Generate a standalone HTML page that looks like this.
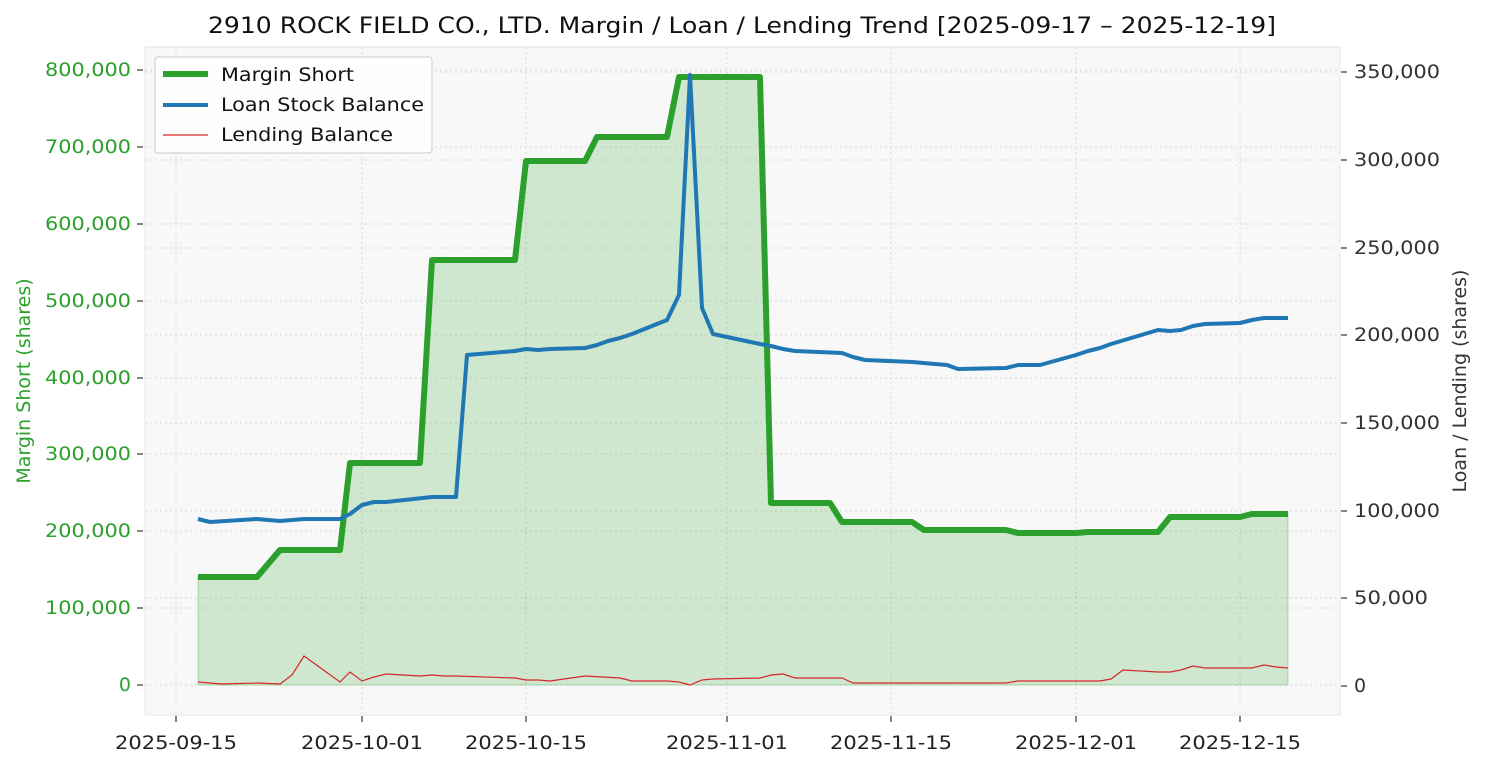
<!DOCTYPE html>
<html><head><meta charset="utf-8"><style>body{margin:0;background:#fff}text{font-family:"DejaVu Sans","Liberation Sans",sans-serif}</style></head>
<body>
<svg width="1485" height="765" xmlns="http://www.w3.org/2000/svg">
<rect x="0" y="0" width="1485" height="765" fill="#fff"/>
<rect x="145" y="47" width="1195" height="668" fill="#f8f8f8" stroke="#e6e6e6"/>
<text x="742" y="33" font-size="22" text-anchor="middle" fill="#111" textLength="1068" lengthAdjust="spacingAndGlyphs">2910 ROCK FIELD CO., LTD. Margin / Loan / Lending Trend [2025-09-17 – 2025-12-19]</text>
<g stroke="#d8d8d8" stroke-dasharray="2,3" stroke-width="1">
<line x1="176" y1="47" x2="176" y2="715"/><line x1="362" y1="47" x2="362" y2="715"/><line x1="526" y1="47" x2="526" y2="715"/><line x1="727" y1="47" x2="727" y2="715"/><line x1="891" y1="47" x2="891" y2="715"/><line x1="1076" y1="47" x2="1076" y2="715"/><line x1="1240" y1="47" x2="1240" y2="715"/>
<line x1="145" y1="70" x2="1340" y2="70"/><line x1="145" y1="147" x2="1340" y2="147"/><line x1="145" y1="224" x2="1340" y2="224"/><line x1="145" y1="301" x2="1340" y2="301"/><line x1="145" y1="378" x2="1340" y2="378"/><line x1="145" y1="454" x2="1340" y2="454"/><line x1="145" y1="531" x2="1340" y2="531"/><line x1="145" y1="608" x2="1340" y2="608"/><line x1="145" y1="685" x2="1340" y2="685"/>
<line x1="145" y1="72" x2="1340" y2="72"/><line x1="145" y1="160" x2="1340" y2="160"/><line x1="145" y1="248" x2="1340" y2="248"/><line x1="145" y1="335" x2="1340" y2="335"/><line x1="145" y1="423" x2="1340" y2="423"/><line x1="145" y1="511" x2="1340" y2="511"/><line x1="145" y1="598" x2="1340" y2="598"/>
</g>
<g stroke="#333" stroke-width="1.2">
<line x1="137" y1="70" x2="143" y2="70"/><line x1="137" y1="147" x2="143" y2="147"/><line x1="137" y1="224" x2="143" y2="224"/><line x1="137" y1="301" x2="143" y2="301"/><line x1="137" y1="378" x2="143" y2="378"/><line x1="137" y1="454" x2="143" y2="454"/><line x1="137" y1="531" x2="143" y2="531"/><line x1="137" y1="608" x2="143" y2="608"/><line x1="137" y1="685" x2="143" y2="685"/>
<line x1="1341" y1="72" x2="1347" y2="72"/><line x1="1341" y1="160" x2="1347" y2="160"/><line x1="1341" y1="248" x2="1347" y2="248"/><line x1="1341" y1="335" x2="1347" y2="335"/><line x1="1341" y1="423" x2="1347" y2="423"/><line x1="1341" y1="511" x2="1347" y2="511"/><line x1="1341" y1="598" x2="1347" y2="598"/><line x1="1341" y1="686" x2="1347" y2="686"/>
<line x1="176" y1="716" x2="176" y2="722"/><line x1="362" y1="716" x2="362" y2="722"/><line x1="526" y1="716" x2="526" y2="722"/><line x1="727" y1="716" x2="727" y2="722"/><line x1="891" y1="716" x2="891" y2="722"/><line x1="1076" y1="716" x2="1076" y2="722"/><line x1="1240" y1="716" x2="1240" y2="722"/>
</g>
<polygon fill="#2ca02c" fill-opacity="0.2" stroke="#2ca02c" stroke-opacity="0.3" points="198,685 198,577 257,577 280,550 340,550 350,463 420,463 432,260 515,260 526,161 585,161 597,137 667,137 679,77 760,77 771,503 830,503 842,522 912,522 924,530 1006,530 1018,533 1076,533 1088,532 1158,532 1170,517 1240,517 1252,514 1288,514 1288,685"/>
<polyline fill="none" stroke="#2ca02c" stroke-width="6" stroke-linejoin="round" points="198,577 257,577 280,550 340,550 350,463 420,463 432,260 515,260 526,161 585,161 597,137 667,137 679,77 760,77 771,503 830,503 842,522 912,522 924,530 1006,530 1018,533 1076,533 1088,532 1158,532 1170,517 1240,517 1252,514 1288,514"/>
<polyline fill="none" stroke="#1f77b4" stroke-width="4" stroke-linejoin="round" points="198,519 210,522 257,519 280,521 304,519 340,519 350,514 362,505 374,502 386,502 432,497 444,497 456,497 467,355 515,351 526,349 538,350 550,349 585,348 597,345 608,341 620,338 632,334 667,320 679,295 690,75 702,308 713,334 760,344 771,346 783,349 795,351 842,353 853,357 865,360 912,362 935,364 947,365 958,369 1006,368 1018,365 1040,365 1076,355 1088,351 1100,348 1111,344 1158,330 1170,331 1181,330 1193,326 1205,324 1240,323 1252,320 1264,318 1288,318"/>
<polyline fill="none" stroke="#d62728" stroke-width="1.2" points="198,682 222,684 257,683 280,684 292,675 304,656 340,682 350,672 362,681 374,677 386,674 420,676 432,675 444,676 456,676 515,678 526,680 538,680 550,681 585,676 620,678 632,681 667,681 679,682 690,685 702,680 713,679 760,678 771,675 783,674 795,678 842,678 853,683 958,683 1006,683 1018,681 1100,681 1111,679 1123,670 1158,672 1170,672 1181,670 1193,666 1205,668 1252,668 1264,665 1276,667 1288,668"/>
<g font-size="19" fill="#2ca02c" text-anchor="end" lengthAdjust="spacingAndGlyphs">
<text x="131" y="76" textLength="86" lengthAdjust="spacingAndGlyphs">800,000</text><text x="131" y="153" textLength="86" lengthAdjust="spacingAndGlyphs">700,000</text><text x="131" y="230" textLength="86" lengthAdjust="spacingAndGlyphs">600,000</text><text x="131" y="307" textLength="86" lengthAdjust="spacingAndGlyphs">500,000</text><text x="131" y="384" textLength="86" lengthAdjust="spacingAndGlyphs">400,000</text><text x="131" y="460" textLength="86" lengthAdjust="spacingAndGlyphs">300,000</text><text x="131" y="537" textLength="86" lengthAdjust="spacingAndGlyphs">200,000</text><text x="131" y="614" textLength="86" lengthAdjust="spacingAndGlyphs">100,000</text><text x="131" y="691">0</text>
</g>
<g font-size="19" fill="#333">
<text x="1354" y="78" textLength="86" lengthAdjust="spacingAndGlyphs">350,000</text><text x="1354" y="166" textLength="86" lengthAdjust="spacingAndGlyphs">300,000</text><text x="1354" y="254" textLength="86" lengthAdjust="spacingAndGlyphs">250,000</text><text x="1354" y="341" textLength="86" lengthAdjust="spacingAndGlyphs">200,000</text><text x="1354" y="429" textLength="86" lengthAdjust="spacingAndGlyphs">150,000</text><text x="1354" y="517" textLength="86" lengthAdjust="spacingAndGlyphs">100,000</text><text x="1354" y="604" textLength="74" lengthAdjust="spacingAndGlyphs">50,000</text><text x="1354" y="692">0</text>
</g>
<g font-size="19" fill="#222" text-anchor="middle">
<text x="176" y="749" textLength="122" lengthAdjust="spacingAndGlyphs">2025-09-15</text><text x="362" y="749" textLength="122" lengthAdjust="spacingAndGlyphs">2025-10-01</text><text x="526" y="749" textLength="122" lengthAdjust="spacingAndGlyphs">2025-10-15</text><text x="727" y="749" textLength="122" lengthAdjust="spacingAndGlyphs">2025-11-01</text><text x="891" y="749" textLength="122" lengthAdjust="spacingAndGlyphs">2025-11-15</text><text x="1076" y="749" textLength="122" lengthAdjust="spacingAndGlyphs">2025-12-01</text><text x="1240" y="749" textLength="122" lengthAdjust="spacingAndGlyphs">2025-12-15</text>
</g>
<text transform="translate(30,381) rotate(-90)" font-size="19" fill="#2ca02c" text-anchor="middle">Margin Short (shares)</text>
<text transform="translate(1466,381) rotate(-90)" font-size="19" fill="#333" text-anchor="middle">Loan / Lending (shares)</text>
<rect x="155" y="57" width="277" height="96" rx="3" fill="#fff" fill-opacity="0.85" stroke="#ccc"/>
<line x1="163" y1="74" x2="208" y2="74" stroke="#2ca02c" stroke-width="6"/>
<line x1="163" y1="105" x2="208" y2="105" stroke="#1f77b4" stroke-width="4"/>
<line x1="163" y1="135" x2="208" y2="135" stroke="#d62728" stroke-width="1.2"/>
<g font-size="19" fill="#111"><text x="221" y="81" textLength="133" lengthAdjust="spacingAndGlyphs">Margin Short</text><text x="221" y="111" textLength="203" lengthAdjust="spacingAndGlyphs">Loan Stock Balance</text><text x="221" y="141" textLength="172" lengthAdjust="spacingAndGlyphs">Lending Balance</text></g>
</svg>
</body></html>
